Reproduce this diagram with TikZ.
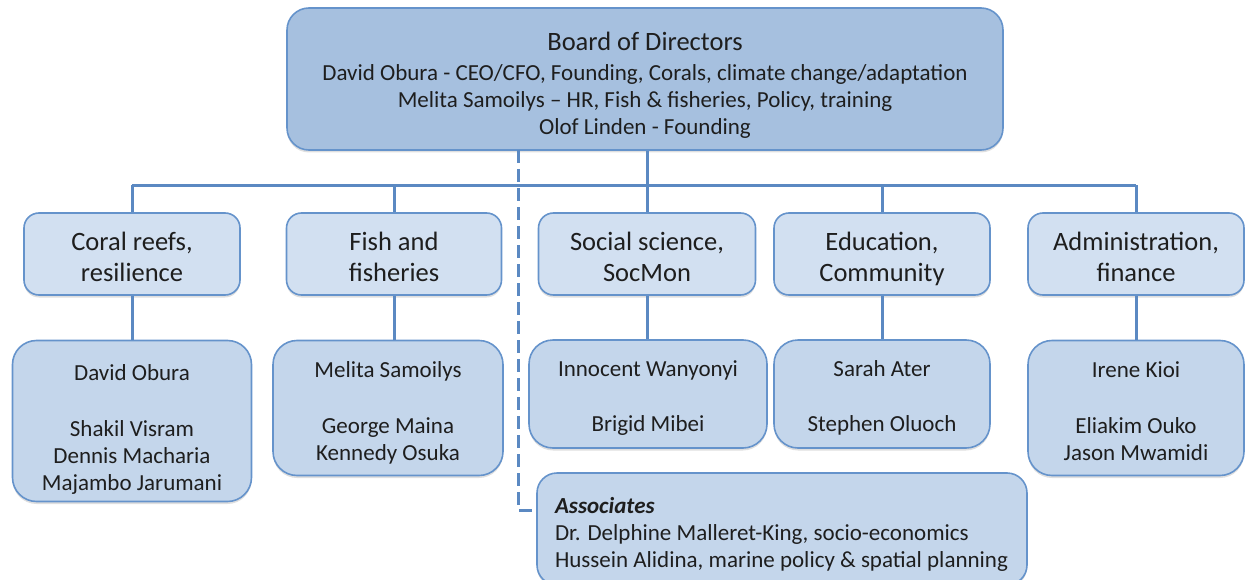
\documentclass[tikz,border=0pt]{standalone}
\usepackage{fontspec}
\setmainfont{Carlito}
\usetikzlibrary{shadows}
\definecolor{boardfill}{HTML}{A6C0DF}
\definecolor{areafill}{HTML}{D2E0F1}
\definecolor{stafffill}{HTML}{C4D6EB}
\definecolor{edgeblue}{HTML}{6593CB}
\definecolor{lineblue}{HTML}{5B89C2}
\definecolor{inkgrey}{HTML}{1E1E1E}
% text block of fixed size, set from the top: width, height, top gap, alignment, text
\newcommand\topbox[5]{\parbox[c][#2pt][t]{#1pt}{\vspace*{#3pt}#4\strut#5}}
\tikzset{
  box/.style={draw=edgeblue, line width=1.6pt, text=inkgrey, inner sep=0pt,
    drop shadow={opacity=0.25, shadow xshift=0pt, shadow yshift=-2.5pt}},
  board/.style={box, fill=boardfill, rounded corners=22pt, font=\fontsize{23}{27}\selectfont},
  area/.style={box, fill=areafill, rounded corners=15pt, font=\fontsize{26.5}{31}\selectfont},
  staff/.style={box, fill=stafffill, rounded corners=24pt, font=\fontsize{23}{27}\selectfont},
  link/.style={draw=lineblue, line width=3pt},
}
\begin{document}
\begin{tikzpicture}[x=1pt, y=-1pt]
   \useasboundingbox (0,0) rectangle (1246,580);
   % board
   \node[board] (board) at (645,79)
     {\topbox{716}{142}{21.5}{\centering\fontsize{26.5}{30}\selectfont}{Board of Directors\par
      \vspace{3pt}\fontsize{23}{27}\selectfont
      David Obura - CEO/CFO, Founding, Corals, climate change/adaptation\\
      Melita Samoilys – HR, Fish \& fisheries, Policy, training\\
      Olof Linden - Founding}};
   % research areas
   \node[area] (coral) at (132,254) {\topbox{216}{82}{15.5}{\centering}{Coral reefs,\\resilience}};
   \node[area] (fish) at (394,254) {\topbox{215}{82}{15.5}{\centering}{Fish and\\fisheries}};
   \node[area] (social) at (647,254) {\topbox{217}{82}{15.5}{\centering}{Social science,\\SocMon}};
   \node[area] (educ) at (882,254) {\topbox{216}{82}{15.5}{\centering}{Education,\\Community}};
   \node[area] (admin) at (1136,254) {\topbox{216}{82}{15.5}{\centering}{Administration,\\finance}};
   % staff
   \node[staff] (coralstaff) at (132,421) {\topbox{239}{161}{21}{\centering}
     {David Obura\\[29pt] Shakil Visram\\Dennis Macharia\\Majambo Jarumani}};
   \node[staff] (fishstaff) at (388,408) {\topbox{230}{135}{18.5}{\centering}
     {Melita Samoilys\\[29pt] George Maina\\Kennedy Osuka}};
   \node[staff] (socialstaff) at (648,394) {\topbox{238}{108}{18}{\centering}
     {Innocent Wanyonyi\\[28pt] Brigid Mibei}};
   \node[staff] (educstaff) at (882,394) {\topbox{216}{108}{18}{\centering}
     {Sarah Ater\\[28pt] Stephen Oluoch}};
   \node[staff] (adminstaff) at (1136,408) {\topbox{216}{135}{18.5}{\centering}
     {Irene Kioi\\[29pt] Eliakim Ouko\\Jason Mwamidi}};
   % associates
   \node[staff, rounded corners=20pt, inner xsep=18pt] (assoc) at (782,529)
     {\topbox{454}{112}{21.5}{\raggedright}{\textbf{\textit{Associates}}\\
      Dr. Delphine Malleret-King, socio-economics\\
      Hussein Alidina, marine policy \& spatial planning}};
   % connectors
   \coordinate (bus) at (647,185);
   \coordinate (dash) at (518,150);
   \coordinate (associn) at (537,510);
   \draw[link] (board.south -| bus) -- (bus);
   \draw[link] (coral.north |- bus) -- (admin.north |- bus);
   \foreach \n in {coral,fish,social,educ,admin} {
     \draw[link] (\n.north |- bus) -- (\n.north);
     \draw[link] (\n.south) -- (\n.south |- \n staff.north);
   }
   \draw[link, dash pattern=on 13pt off 6pt] (dash) |- (associn);
\end{tikzpicture}
\end{document}
